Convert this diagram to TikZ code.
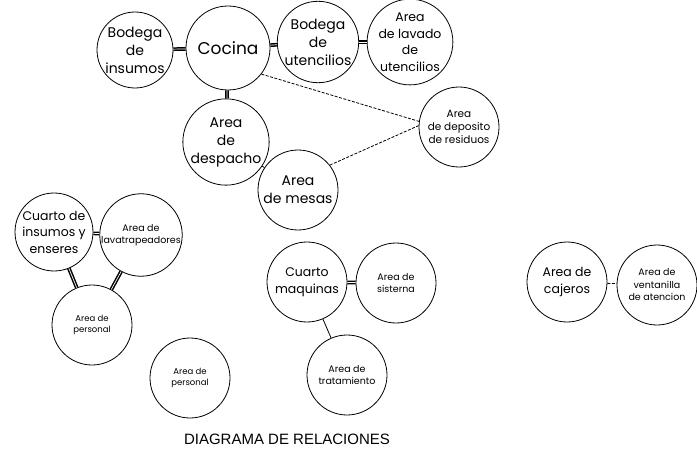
\documentclass[tikz,border=0pt]{standalone}
\usepackage{fontspec}
\newfontfamily\gothic{Poppins}
\newfontfamily\arialf{Liberation Sans}
\usetikzlibrary{positioning}

\begin{document}
\begin{tikzpicture}[
    x=1pt, y=-1pt,
    area/.style={
      circle, draw, line width=0.8pt,
      minimum size=80pt, inner sep=0pt,
      align=center, font=\gothic
    },
    bigtxt/.style={font=\gothic\fontsize{14}{18}\selectfont},
    medtxt/.style={font=\gothic\fontsize{12.5}{16.5}\selectfont},
    smltxt/.style={font=\gothic\fontsize{9.5}{12.5}\selectfont},
    tinytxt/.style={font=\gothic\fontsize{8.5}{10.5}\selectfont},
    strong/.style={double, double distance=0.7pt, line width=1.5pt},
    plain/.style={line width=0.8pt},
    far/.style={line width=0.8pt, dash pattern=on 3pt off 1.5pt}
  ]
  \useasboundingbox (0,0) rectangle (697,452);

  % Cocina group
  \node[area, bigtxt, minimum size=76pt] (binsumos) at (135,50)
    {Bodega\\de\\insumos};
  \node[area, font=\gothic\fontsize{17}{20}\selectfont, minimum size=84pt]
    (cocina) at (228,48) {Cocina};
  \node[area, bigtxt] (butensil) at (318,42)
    {Bodega\\de\\utencilios};
  \node[area, medtxt, minimum size=76pt] (lavado) at (410,42)
    {Area\\de lavado\\de\\utencilios};
  \node[area, bigtxt, minimum size=82pt] (despacho) at (226,142)
    {Area\\de\\despacho};
  \node[area, bigtxt] (mesas) at (298,190) {Area\\de mesas};
  \node[area, font=\gothic\fontsize{10.5}{13}\selectfont] (deposito) at (459,127)
    {Area\\de deposito\\de residuos};

  \draw[strong] (binsumos) -- (cocina);
  \draw[strong] (cocina) -- (butensil);
  \draw[strong] (butensil) -- (lavado);
  \draw[strong] (cocina) -- (despacho);
  \draw[plain] (despacho) -- (mesas);
  \draw[far] (cocina.-38) -- (deposito.172);
  \draw[far] (mesas.38) -- (deposito.178);

  % Limpieza group
  \node[area, medtxt, minimum size=78pt] (cinsumos) at (54,232)
    {Cuarto de\\insumos y\\enseres};
  \node[area, smltxt, minimum size=82pt] (lavatrap) at (141,235)
    {Area de\\lavatrapeadores};
  \node[area, tinytxt] (personala) at (92,325) {Area de\\personal};

  \draw[strong] (cinsumos) -- (lavatrap);
  \draw[strong] (cinsumos) -- (personala);
  \draw[strong] (lavatrap) -- (personala);

  \node[area, tinytxt] (personalb) at (190,378) {Area de\\personal};

  % Maquinas group
  \node[area, medtxt] (maquinas) at (307,282) {Cuarto\\maquinas};
  \node[area, smltxt] (sisterna) at (396,283) {Area de\\sisterna};
  \node[area, smltxt] (tratam) at (347,375) {Area de\\tratamiento};

  \draw[strong] (maquinas) -- (sisterna);
  \draw[plain] (maquinas) -- (tratam);

  % Cajeros group
  \node[area, medtxt] (cajeros) at (567,282) {Area de\\cajeros};
  \node[area, smltxt] (ventanilla) at (657,285)
    {Area de\\ventanilla\\de atencion};

  \draw[far] (cajeros) -- (ventanilla);

  % Title
  \node[font=\arialf\fontsize{15}{18}\selectfont] (titulo) at (287,439)
    {DIAGRAMA DE RELACIONES};
\end{tikzpicture}
\end{document}
